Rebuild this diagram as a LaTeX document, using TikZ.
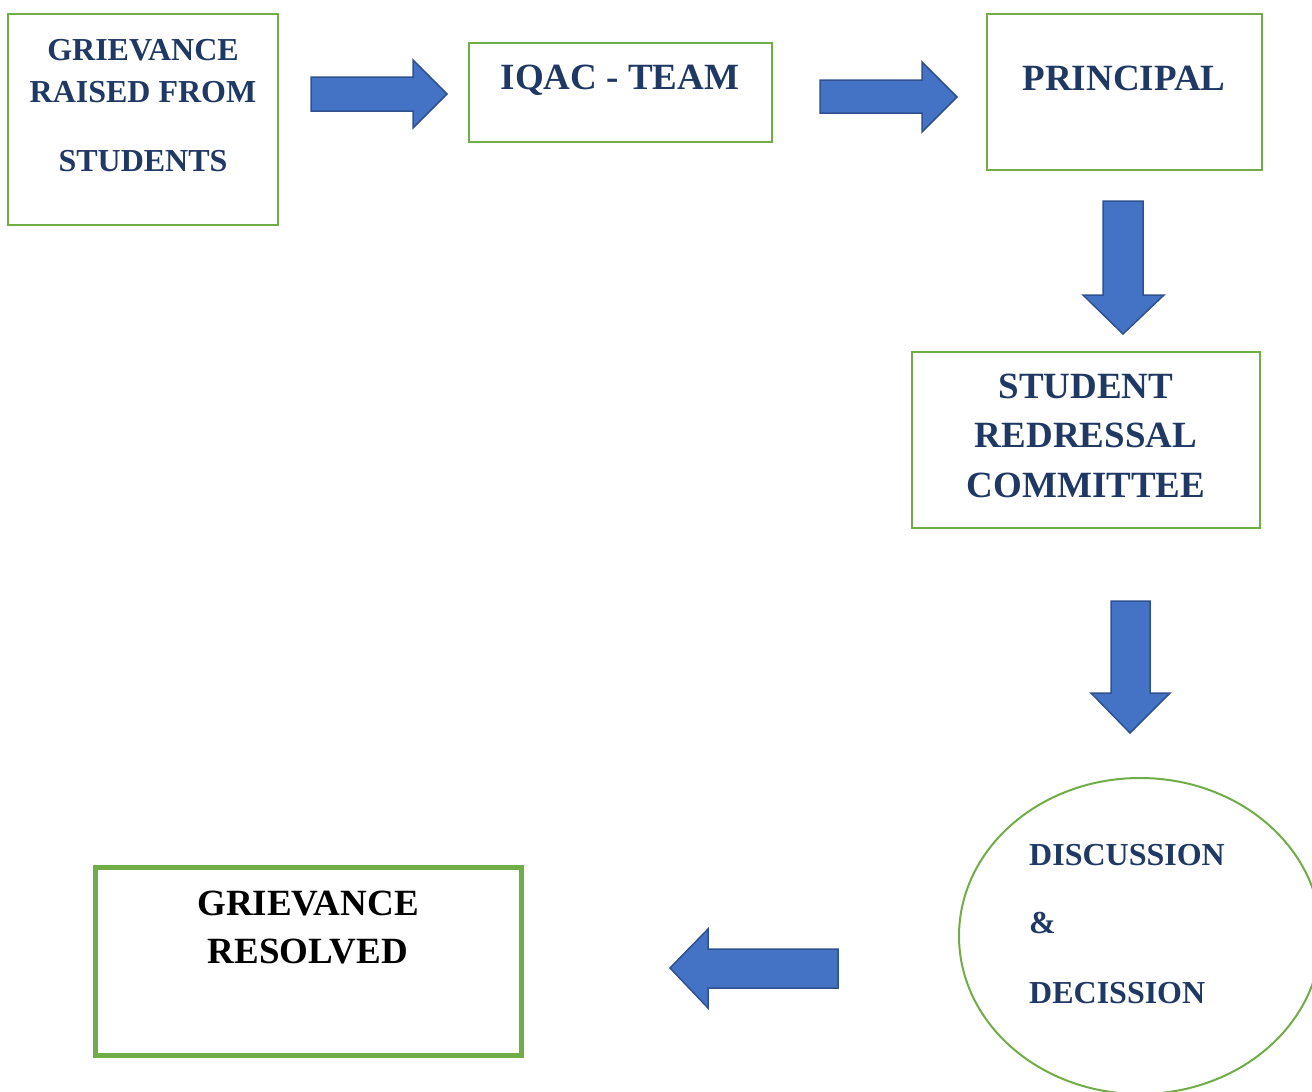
\documentclass[tikz,border=0pt]{standalone}
\usepackage{fontspec}
\setmainfont{Liberation Serif}
\usetikzlibrary{shapes.geometric}
\definecolor{boxgreen}{HTML}{70AD47}
\definecolor{arrowfill}{HTML}{4472C4}
\definecolor{arrowline}{HTML}{2F528F}
\definecolor{navy}{HTML}{1F3864}
\tikzset{
  boxnode/.style={draw=boxgreen, line width=2pt, rectangle, inner sep=0pt, fill=white},
  lbl/.style={anchor=base, inner sep=0pt, text=navy, font=\bfseries\fontsize{37}{44}\selectfont},
  smalllbl/.style={lbl, font=\bfseries\fontsize{32}{38}\selectfont},
  blockarrow/.style={fill=arrowfill, draw=arrowline, line width=1.5pt, line join=miter},
}
\begin{document}
\begin{tikzpicture}[x=1pt,y=-1pt]
\useasboundingbox (0,0) rectangle (1312,1092);
% boxes
\node[boxnode, minimum width=270pt, minimum height=211pt] (b1) at (143,119.5) {};
\node[boxnode, minimum width=303pt, minimum height=99pt] (b2) at (620.5,92.5) {};
\node[boxnode, minimum width=275pt, minimum height=156pt] (b3) at (1124.5,92) {};
\node[boxnode, minimum width=348pt, minimum height=176pt] (b4) at (1086,440) {};
\node[draw=boxgreen, line width=2pt, ellipse, minimum width=362pt, minimum height=316pt, inner sep=0pt] (c1) at (1140,936) {};
\node[boxnode, line width=5pt, minimum width=426pt, minimum height=188pt] (b5) at (308,961) {};
% labels
\node[smalllbl] (t1a) at (143,60) {GRIEVANCE};
\node[smalllbl] (t1b) at (143,102) {RAISED FROM};
\node[smalllbl] (t1c) at (143,171) {STUDENTS};
\node[lbl] (t2) at (620,89) {IQAC - TEAM};
\node[lbl] (t3) at (1124,90) {PRINCIPAL};
\node[lbl] (t4a) at (1086,398) {STUDENT};
\node[lbl] (t4b) at (1086,447) {REDRESSAL};
\node[lbl] (t4c) at (1086,497) {COMMITTEE};
\node[smalllbl, anchor=base west] (t5a) at (1029,865) {DISCUSSION};
\node[smalllbl, anchor=base west] (t5b) at (1029,933) {\&};
\node[smalllbl, anchor=base west] (t5c) at (1029,1003) {DECISSION};
\node[lbl, text=black] (t6a) at (308,915) {GRIEVANCE};
\node[lbl, text=black] (t6b) at (308,963) {RESOLVED};
% block arrows
\draw[blockarrow] (311,77) -- (413,77) -- (413,60) -- (447,94) -- (413,128) -- (413,111) -- (311,111) -- cycle;
\draw[blockarrow] (820,80) -- (922,80) -- (922,62) -- (957,97) -- (922,132) -- (922,113) -- (820,113) -- cycle;
\draw[blockarrow] (1103,201) -- (1143,201) -- (1143,295) -- (1164,295) -- (1123,334) -- (1083,295) -- (1103,295) -- cycle;
\draw[blockarrow] (1111,601) -- (1150,601) -- (1150,693) -- (1170,693) -- (1130,733) -- (1091,693) -- (1111,693) -- cycle;
\draw[blockarrow] (838,949) -- (708,949) -- (708,929) -- (670,968) -- (708,1008) -- (708,988) -- (838,988) -- cycle;
\end{tikzpicture}
\end{document}
